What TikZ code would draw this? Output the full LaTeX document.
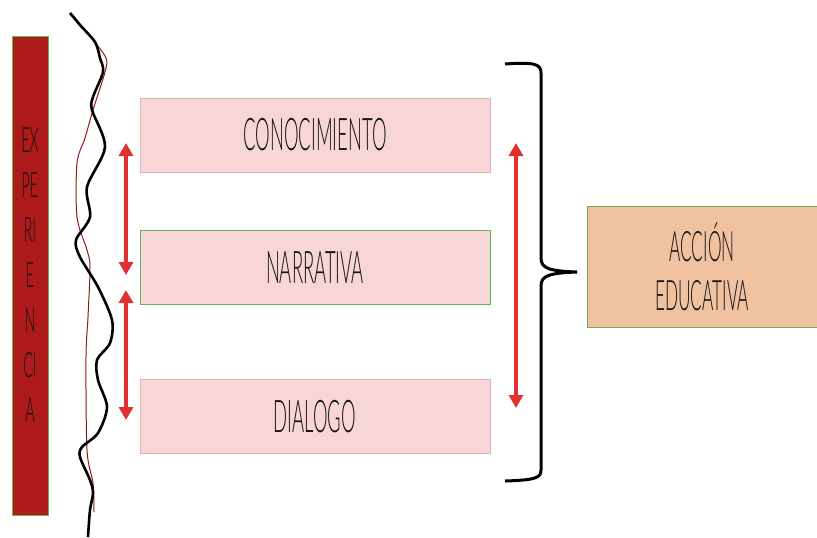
\documentclass[tikz,border=0pt]{standalone}
\usepackage{fontspec}
\newfontfamily\thinfont{Lato Light}[FakeStretch=0.41]
\definecolor{bar}{HTML}{AE1A1A}
\definecolor{pinkbox}{HTML}{F8D5D6}
\definecolor{pinkline}{HTML}{D6B6B8}
\definecolor{greenline}{HTML}{5DB854}
\definecolor{peach}{HTML}{F1C2A0}
\definecolor{arrowred}{HTML}{E0302F}
\definecolor{wire}{HTML}{8E1A1A}
\definecolor{ink}{HTML}{141414}
\usetikzlibrary{arrows.meta}
\usetikzlibrary{positioning}
\tikzstyle{base}=[x=0.5pt, y=-0.5pt, inner sep=0pt, outer sep=0pt]
\tikzstyle{stage}=[draw=pinkline, fill=pinkbox, minimum width=175pt, minimum height=37pt, text=ink, font=\thinfont\fontsize{22.5}{26}\selectfont]
\tikzstyle{pillar}=[draw=greenline, fill=bar, minimum width=18pt, minimum height=239.5pt, align=center, text=ink, font=\thinfont\fontsize{17.5}{22.5}\selectfont]
\tikzstyle{goal}=[draw=greenline, fill=peach, minimum width=115pt, minimum height=60.5pt, align=center, text=ink, font=\thinfont\fontsize{21}{24.5}\selectfont]
\tikzstyle{twoway}=[arrowred, line width=2pt, {Triangle[length=6.5pt,width=7pt]}-{Triangle[length=6.5pt,width=7pt]}]

\begin{document}
\begin{tikzpicture}[base]
    \useasboundingbox (0,0) rectangle (817,537);
    % columna izquierda
    \node [pillar] (exp) at (30,275.5) {EX\\PE\\RI\\E\\N\\CI\\A};
    \draw [wire, line width=0.5pt] plot [smooth] coordinates {(71,13) (93,40) (106,58) (105,72) (93,110) (85,138) (77,163) (77,217) (87,250) (90,267) (88,317) (86,357) (87,450) (93,483) (94,512)};
    \draw [black, line width=1.3pt] plot [smooth] coordinates {(70,13) (80,25) (95,42) (100,58) (103,72) (93,97) (92,110) (105,147) (87,187) (90,217) (76,240) (80,257) (98,287) (112,320) (110,343) (97,360) (98,380) (107,407) (98,433) (82,447) (80,457) (90,480) (93,493) (90,510) (88,537)};
    % cajas
    \node [stage] (cono) at (315,135) {CONOCIMIENTO};
    \node [stage, draw=greenline] (narr) at (315,267.5) {NARRATIVA};
    \node [stage] (dial) at (315,416.5) {DIALOGO};
    \node [goal] (accion) at (702,266.5) {ACCIÓN\\EDUCATIVA};
    % flechas
    \coordinate (a1) at (126,143);
    \coordinate (a2) at (126,275);
    \coordinate (a3) at (126,290);
    \coordinate (a4) at (126,420);
    \coordinate (b1) at (516,143);
    \coordinate (b2) at (516,408);
    \draw [twoway] (a1) -- (a2);
    \draw [twoway] (a3) -- (a4);
    \draw [twoway] (b1) -- (b2);
    % llave
    \coordinate (tip) at (577,272);
    \draw [black, line width=1.5pt] (505,64) .. controls (535,62) and (541,64) .. (541,73) -- (541,258) .. controls (541,268) and (548,271) .. (tip) .. controls (548,273) and (541,276) .. (541,286) -- (541,470) .. controls (541,478) and (535,480) .. (505,481);
\end{tikzpicture}
\end{document}
